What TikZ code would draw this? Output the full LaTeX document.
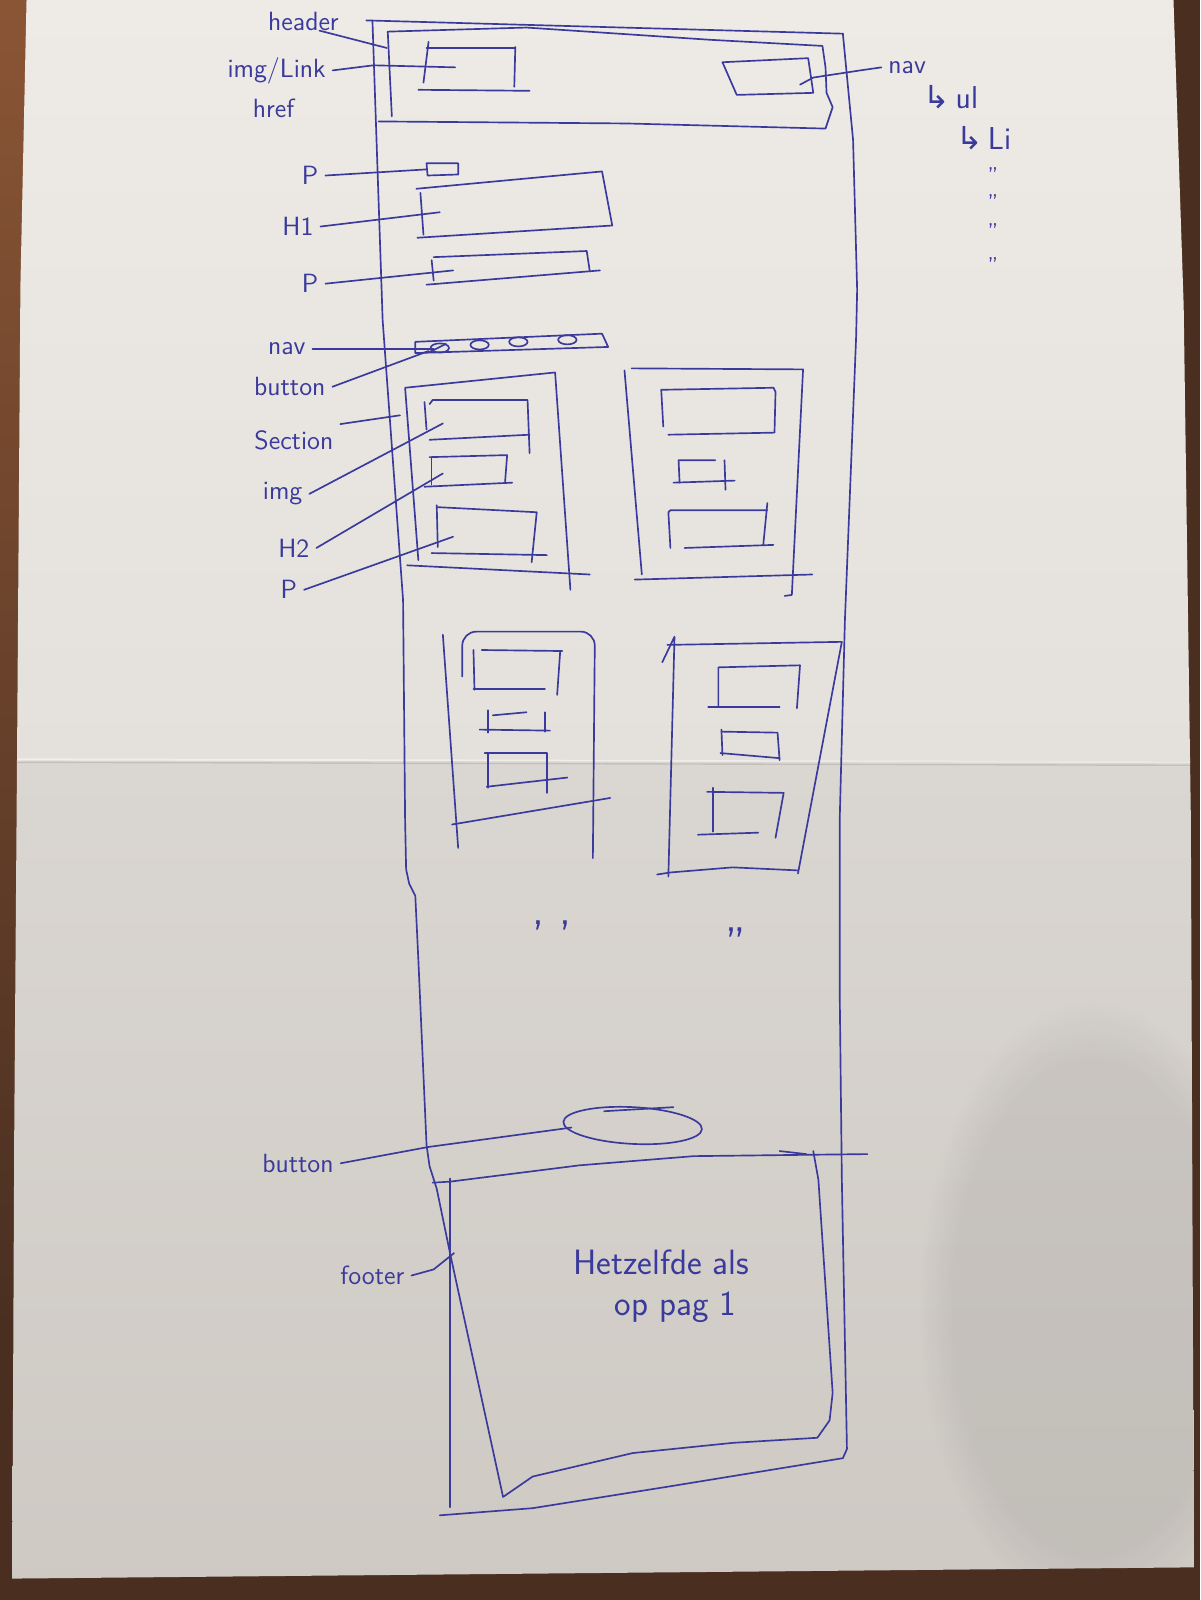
\documentclass[tikz,border=0pt]{standalone}
\usepackage{fontspec}
\newfontfamily\symfont{DejaVu Sans}
\usetikzlibrary{fadings}
\definecolor{ink}{HTML}{3A3A9C}
\definecolor{wood}{HTML}{4A2F21}
\definecolor{woodwarm}{HTML}{8A5535}
\definecolor{paperA}{HTML}{EEEAE6}
\definecolor{paperB}{HTML}{E4E1DD}
\definecolor{paperC}{HTML}{DAD6D1}
\definecolor{paperD}{HTML}{CEC9C3}
\newcommand\sheetoutline{(26,0) -- (1150,0) -- (1160,300) -- (1167,800) -- (1170,1536) -- (12,1547) -- (14,1100) -- (17,700) -- (20,280) -- cycle}
\begin{document}
\begin{tikzpicture}[x=0.020408cm,y=-0.020408cm,
  pen/.style={draw=ink,line width=0.95pt,line cap=round,line join=round},
  lbl/.style={text=ink,inner sep=0pt,outer sep=4pt,font=\sffamily\fontsize{15}{15}\selectfont},
  note/.style={text=ink,inner sep=0pt,font=\sffamily\fontsize{20}{20}\selectfont},
  ditto/.style={text=ink,inner sep=0pt,font=\sffamily\fontsize{13}{13}\selectfont}]
\useasboundingbox (0,0) rectangle (1176,1568);

% table top and the sheet of paper
\fill[wood] (0,0) rectangle (1176,1568);
\shade[top color=woodwarm,bottom color=wood] (0,0) rectangle (30,1300);
\begin{scope}
  \clip \sheetoutline;
  \shade[top color=paperA,bottom color=paperB] (0,0) rectangle (1176,746);
  \shade[top color=paperC,bottom color=paperD] (0,746) rectangle (1176,1568);
  \fill[black,opacity=0.06,path fading=circle with fuzzy edge 20 percent] (1070,1280) ellipse (170 and 300);
  \draw[white,opacity=0.45,line width=1pt] (0,744) -- (1176,747);
  \draw[black,opacity=0.1,line width=0.8pt] (0,747) -- (1176,750);
\end{scope}

% page frame
\draw[pen] (359,20) -- (826,33);
\draw[pen] (365,20) -- (375,314) -- (395,588) -- (397,804) -- (398,852) -- (401,866) -- (407,878) -- (410,941)
  -- (418,1122) -- (421,1143) -- (428,1165) -- (441,1228) -- (493,1467) -- (522,1447) -- (620,1424)
  -- (718,1414) -- (801,1409) -- (813,1392) -- (816,1365) -- (802,1156) -- (797,1128);
\draw[pen] (826,33) -- (836,137) -- (840,284) -- (839,330) -- (828,608) -- (823,800) -- (823,980)
  -- (825,1156) -- (830,1420) -- (826,1429) -- (654,1457) -- (522,1478) -- (431,1485);

% header bar
\draw[pen] (384,114) -- (380,31) -- (516,27) -- (696,39) -- (806,45) -- (809,66) -- (810,91)
  -- (816,105) -- (809,126) -- (614,121) -- (371,119);
\draw[pen] (418,47) -- (505,47);
\draw[pen] (420,41) -- (415,81);
\draw[pen] (505,46) -- (504,85);
\draw[pen] (410,88) -- (519,89);
\draw[pen] (708,61) -- (792,57) -- (797,91) -- (722,93) -- cycle;

% intro: P, H1, P
\draw[pen] (418,160) -- (449,160) -- (449,171) -- (419,172) -- cycle;
\draw[pen] (408,185) -- (590,168) -- (600,221) -- (409,233);
\draw[pen] (412,189) -- (415,230);
\draw[pen] (425,252) -- (575,246) -- (578,266);
\draw[pen] (588,265) -- (418,279);
\draw[pen] (423,255) -- (425,275);

% nav bar with buttons
\draw[pen] (407,335) -- (590,327) -- (596,340) -- (407,346) -- cycle;
\foreach \cx/\cy in {431/341,470/338,508/335,556/333}
  \draw[pen] (\cx,\cy) ellipse (9 and 4.5);
\draw[pen] (421,345) -- (437,337);

% card 1
\draw[pen] (410,549) -- (397,380) -- (544,365) -- (559,578);
\draw[pen] (399,554) -- (578,563);
\draw[pen] (416,394) -- (418,421);
\draw[pen] (421,396) -- (424,392) -- (517,392) -- (519,444);
\draw[pen] (421,431) -- (519,426);
\draw[pen] (421,448) -- (497,446) -- (495,472);
\draw[pen] (423,448) -- (423,475);
\draw[pen] (416,477) -- (502,473);
\draw[pen] (428,495) -- (429,536);
\draw[pen] (429,497) -- (526,502) -- (521,551);
\draw[pen] (423,542) -- (536,544);

% card 2
\draw[pen] (612,363) -- (629,563);
\draw[pen] (619,361) -- (787,362) -- (776,583) -- (769,584);
\draw[pen] (622,568) -- (796,563);
\draw[pen] (650,418) -- (648,382) -- (758,380) -- (760,384) -- (759,424);
\draw[pen] (655,426) -- (758,424);
\draw[pen] (666,473) -- (665,451) -- (701,451);
\draw[pen] (710,451) -- (711,480);
\draw[pen] (660,473) -- (720,471);
\draw[pen] (657,537) -- (655,502) -- (657,500) -- (752,500);
\draw[pen] (752,493) -- (748,534);
\draw[pen] (671,537) -- (758,534);

% card 3
\draw[pen,rounded corners=8] (453,663) -- (453,619) -- (583,619) -- (581,841);
\draw[pen] (434,622) -- (449,831);
\draw[pen] (443,808) -- (598,782);
\draw[pen] (472,637) -- (551,638);
\draw[pen] (464,637) -- (465,676);
\draw[pen] (464,675) -- (534,675);
\draw[pen] (549,638) -- (546,681);
\draw[pen] (478,696) -- (478,718);
\draw[pen] (483,701) -- (516,698);
\draw[pen] (534,698) -- (534,717);
\draw[pen] (470,715) -- (539,716);
\draw[pen] (475,738) -- (536,738) -- (536,777);
\draw[pen] (478,738) -- (478,772);
\draw[pen] (477,771) -- (556,762);

% card 4
\draw[pen] (649,649) -- (661,624) -- (655,859);
\draw[pen] (654,632) -- (825,629) -- (782,856);
\draw[pen] (644,857) -- (657,855) -- (718,850) -- (782,853);
\draw[pen] (704,693) -- (704,654) -- (784,652) -- (781,694);
\draw[pen] (694,693) -- (764,693);
\draw[pen] (707,715) -- (708,740);
\draw[pen] (708,717) -- (762,718) -- (764,745);
\draw[pen] (706,738) -- (764,743);
\draw[pen] (693,776) -- (768,777) -- (760,821);
\draw[pen] (699,772) -- (699,815);
\draw[pen] (684,818) -- (743,816);

% more cards below
\node[ditto,font=\sffamily\fontsize{26}{26}\selectfont] (more1) at (541,918) {'\,\,'};
\node[ditto,font=\sffamily\fontsize{26}{26}\selectfont] (more2) at (721,925) {''};

% button and footer
\draw[pen,rotate around={-3:(620,1103)}] (620,1103) ellipse (68 and 18);
\draw[pen] (592,1089) -- (660,1085);
\draw[pen] (424,1159) -- (441,1158) -- (568,1142) -- (680,1133) -- (850,1131);
\draw[pen] (764,1128) -- (790,1131);
\draw[pen] (441,1155) -- (441,1477);
\node[note] (same1) at (648,1237) {Hetzelfde als};
\node[note] (same2) at (662,1281) {op pag 1};

% element labels
\node[lbl,anchor=south east,outer sep=0pt] (lhead) at (332,30) {header};
\node[lbl,anchor=east] (limg) at (326,69) {img/Link};
\node[lbl] (lhref) at (268,106) {href};
\node[lbl] (lP1) at (304,172) {P};
\node[lbl] (lH1) at (292,222) {H1};
\node[lbl] (lP2) at (304,278) {P};
\node[lbl] (lnav) at (281,342) {nav};
\node[lbl] (lbtn) at (284,379) {button};
\node[lbl] (lsec) at (288,432) {Section};
\node[lbl] (limg2) at (277,484) {img};
\node[lbl] (lH2) at (288,537) {H2};
\node[lbl] (lP3) at (283,578) {P};
\node[lbl] (lnavR) at (889,66) {nav};
\node[lbl,font=\sffamily\fontsize{18}{18}\selectfont] (lul) at (932,95) {{\symfont ↳}\,ul};
\node[lbl,font=\sffamily\fontsize{18}{18}\selectfont] (lli) at (964,135) {{\symfont ↳}\,Li};
\foreach \dy [count=\i] in {172,199,227,260}
  \node[ditto] (li\i) at (973,\dy) {''};
\node[lbl] (lbtn2) at (292,1140) {button};
\node[lbl] (lfoot) at (365,1250) {footer};

% leader lines
\coordinate (hdrE) at (379,47);
\coordinate (imgE) at (446,66);
\coordinate (navE) at (784,83);
\coordinate (p1E) at (418,166);
\coordinate (h1E) at (431,208);
\coordinate (p2E) at (444,265);
\coordinate (navbarE) at (425,342);
\coordinate (btnE) at (420,344);
\coordinate (secE) at (392,407);
\coordinate (cimgE) at (434,415);
\coordinate (ch2E) at (434,464);
\coordinate (cpE) at (444,526);
\coordinate (btn2E) at (560,1105);
\coordinate (footE) at (445,1228);

\draw[pen] ([xshift=-11pt]lhead.south east) -- (hdrE);
\draw[pen] (limg.east) -- (366,64) -- (imgE);
\draw[pen] (lnavR.west) -- (843,69) -- (797,76) -- (navE);
\draw[pen] (lP1.east) -- (p1E);
\draw[pen] (lH1.east) -- (h1E);
\draw[pen] (lP2.east) -- (p2E);
\draw[pen] (lnav.east) -- (navbarE);
\draw[pen] (lbtn.east) -- (btnE);
\draw[pen] (lsec.north east) -- (secE);
\draw[pen] (limg2.east) -- (cimgE);
\draw[pen] (lH2.east) -- (ch2E);
\draw[pen] (lP3.east) -- (cpE);
\draw[pen] (lbtn2.east) -- (420,1124) -- (btn2E);
\draw[pen] (lfoot.east) -- (425,1244) -- (footE);
\end{tikzpicture}
\end{document}
